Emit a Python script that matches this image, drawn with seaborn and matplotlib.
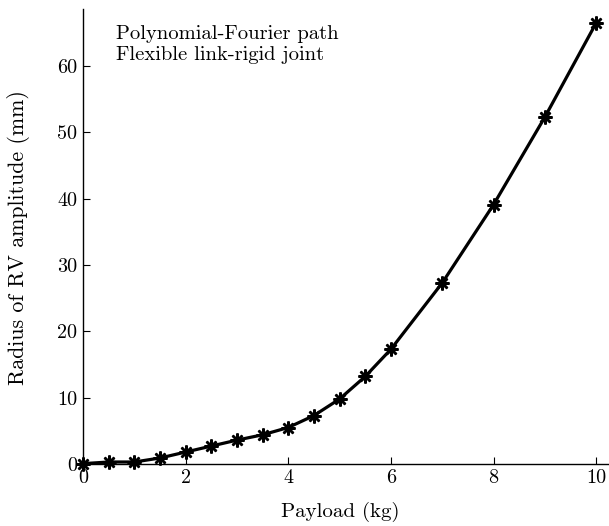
import matplotlib
matplotlib.use("Agg")
import matplotlib.pyplot as plt
import seaborn as sns
import pandas as pd

payload_kg = [0, 0.5, 1, 1.5, 2, 2.5, 3, 3.5, 4, 4.5, 5, 5.5, 6, 7, 8, 9, 10]
radius_mm = [0.05, 0.3, 0.3, 0.9, 1.8, 2.7, 3.6, 4.4, 5.5, 7.3, 9.8, 13.2, 17.3,
             27.3, 39.1, 52.3, 66.5]
x_ticks = [0, 2, 4, 6, 8, 10]
y_ticks = [0, 10, 20, 30, 40, 50, 60]
legend_lines = ["Polynomial-Fourier path", "Flexible link-rigid joint"]

sns.set_theme(style="ticks")
plt.rcParams["font.family"] = ["cmr10", "DejaVu Serif"]
plt.rcParams["mathtext.fontset"] = "cm"
plt.rcParams["axes.formatter.use_mathtext"] = True
plt.rcParams["text.color"] = "black"
plt.rcParams["axes.labelcolor"] = "black"

df = pd.DataFrame({"Payload": payload_kg, "Radius": radius_mm})

fig = plt.figure(figsize=(6.09, 5.26), dpi=100)
ax = fig.add_axes([0.1363, 0.1179, 0.8637, 0.8650])

sns.lineplot(data=df, x="Payload", y="Radius", ax=ax, color="black",
             linewidth=2.3, marker=(8, 2, 0), markersize=10,
             markeredgewidth=1.8, markeredgecolor="black",
             markerfacecolor="black", clip_on=False)

ax.set_xlim(0, 10.25)
ax.set_ylim(0, 68.6)
ax.set_xticks(x_ticks)
ax.set_yticks(y_ticks)
ax.set_xticklabels([str(t) for t in x_ticks])
ax.set_yticklabels([str(t) for t in y_ticks])
ax.tick_params(direction="in", length=5, width=0.8, labelsize=14.5,
               colors="black", pad=4)
for side in ("top", "right"):
    ax.spines[side].set_visible(False)
for side in ("left", "bottom"):
    ax.spines[side].set_linewidth(1.0)
    ax.spines[side].set_color("black")

ax.set_xlabel("Payload (kg)", fontsize=15)
ax.set_ylabel("Radius of RV amplitude (mm)", fontsize=15.8)
ax.xaxis.set_label_coords(0.4886, -0.083)
ax.yaxis.set_label_coords(-0.10, 0.497)

ax.text(0.063, 0.965, "\n".join(legend_lines), transform=ax.transAxes,
        ha="left", va="top", fontsize=14.8, linespacing=1.22)

fig.savefig("out.png", dpi=100)
